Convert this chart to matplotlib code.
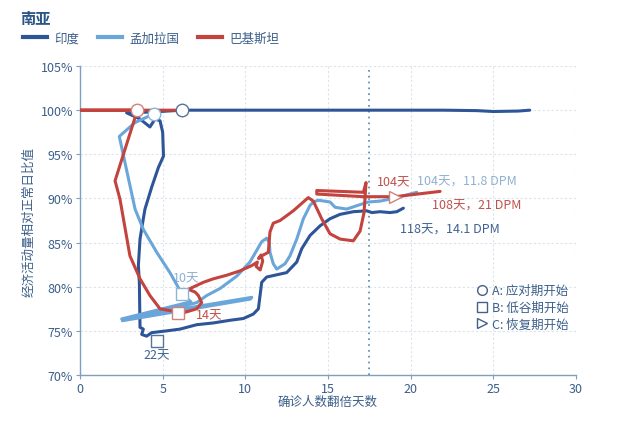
import matplotlib
matplotlib.use("Agg")
import matplotlib.pyplot as plt
from matplotlib.lines import Line2D

plt.rcParams['font.family'] = ['Noto Sans CJK SC', 'DejaVu Sans']

# ---------------- data ----------------
series_names = ["印度", "孟加拉国", "巴基斯坦"]
colors = ["#2d5597", "#6aa6da", "#c3433f"]

india_x = [27.2, 26.5, 25.0, 24.0, 22.0, 6.15, 4.44, 2.82, 3.63, 4.23, 4.54, 4.84, 5.0, 5.05,
           4.74, 4.34, 3.93, 3.83, 3.63, 3.53, 3.59, 3.63, 3.83, 3.73, 4.03, 4.34, 5.24, 6.05,
           7.06, 8.07, 9.07, 9.88, 10.48, 10.79, 10.89, 10.99, 11.29, 12.5, 13.11, 13.41, 13.91,
           14.52, 15.12, 15.73, 16.53, 17.34, 17.65, 18.15, 18.75, 19.16, 19.56]
india_y = [100.0, 99.9, 99.85, 99.95, 100.0, 100.0, 99.8, 99.7, 99.0, 98.1, 99.0, 98.8, 97.5, 94.8,
           93.5, 91.3, 88.8, 87.7, 85.4, 82.4, 80.5, 75.4, 75.2, 74.6, 74.4, 74.8, 75.0, 75.2,
           75.7, 75.9, 76.2, 76.4, 76.9, 77.5, 79.0, 80.5, 81.1, 81.6, 82.8, 84.3, 85.8,
           86.9, 87.7, 88.2, 88.5, 88.6, 88.4, 88.5, 88.4, 88.5, 88.9]

bangla_x = [4.48, 3.33, 2.42, 2.38, 3.33, 3.83, 4.64, 5.44, 6.01, 6.15, 6.7, 2.52, 10.39, 10.3,
            2.56, 7.06, 7.66, 8.47, 9.48, 10.28, 10.99, 11.29, 11.45, 11.49, 11.69, 11.9, 12.4,
            12.7, 13.11, 13.51, 13.91, 14.11, 14.42, 15.12, 15.43, 16.13, 16.94, 17.44, 18.15,
            18.95, 20.37]
bangla_y = [99.6, 98.6, 97.1, 97.0, 88.8, 86.5, 83.9, 81.6, 79.7, 79.2, 78.3, 76.35, 78.8, 78.6,
            76.15, 78.2, 79.0, 79.8, 81.2, 82.8, 85.1, 85.5, 85.0, 83.9, 82.6, 82.0, 82.6,
            83.5, 85.4, 87.7, 89.2, 89.6, 89.8, 89.6, 89.0, 88.8, 89.3, 89.6, 89.7,
            90.0, 90.7]

pak_x = [6.0, 0.0, 3.47, 2.12, 2.42, 3.02, 3.63, 4.23, 4.84, 5.44, 5.93, 6.35, 7.06, 7.36, 7.16,
         6.96, 6.55, 7.46, 8.07, 8.87, 9.68, 10.39, 10.73, 10.65, 10.9, 11.05, 10.95, 10.8, 10.99,
         11.39, 11.49, 11.69, 12.1, 12.9, 13.81, 14.11, 14.62, 15.12, 15.73, 16.53, 16.94, 17.18,
         17.30, 17.14, 14.32, 14.32, 17.14, 19.06, 21.78]
pak_y = [100.0, 100.0, 100.0, 92.0, 89.9, 83.5, 80.9, 79.0, 77.5, 77.3, 77.1, 77.1, 77.5, 78.2, 79.0,
         79.4, 79.7, 80.5, 80.9, 81.3, 81.8, 82.4, 82.8, 82.3, 81.9, 82.9, 83.6, 83.2, 83.5,
         83.9, 86.2, 87.2, 87.5, 88.6, 90.1, 89.7, 87.7, 86.0, 85.4, 85.2, 86.3, 88.4,
         91.8, 90.7, 90.9, 90.5, 90.2, 90.2, 90.8]

# phase markers: A (circle), B (square), C (triangle)
a_x = [6.15, 4.48, 3.47]
a_y = [100.0, 99.6, 100.0]
b_x = [4.64, 6.15, 5.93]
b_y = [73.9, 79.2, 77.0]
c_x = [19.06]
c_y = [90.2]

b_labels = ["22天", "10天", "14天"]
end_labels = ["118天，14.1 DPM", "104天，11.8 DPM", "108天，21 DPM"]
c_label = "104天"
vline_x = 17.5

x_ticks = [0, 5, 10, 15, 20, 25, 30]
y_ticks = [70, 75, 80, 85, 90, 95, 100, 105]

# ---------------- figure ----------------
fig = plt.figure(figsize=(6.4, 4.27), dpi=100)
ax = fig.add_axes([0.125, 0.1194, 0.775, 0.7236])

axis_col = "#7f9fbf"
text_col = "#3b5f8a"

ax.set_xlim(0, 30)
ax.set_ylim(70, 105)
ax.set_xticks(x_ticks)
ax.set_yticks(y_ticks)
ax.set_yticklabels([f"{v}%" for v in y_ticks])
ax.grid(True, color="#dbe3ec", linestyle=(0, (2, 2)), linewidth=0.8)
ax.set_axisbelow(True)
for s in ["top", "right"]:
    ax.spines[s].set_visible(False)
for s in ["left", "bottom"]:
    ax.spines[s].set_color(axis_col)
    ax.spines[s].set_linewidth(1.0)
ax.tick_params(colors=text_col, labelsize=9, length=3, width=0.8, pad=2)
ax.tick_params(axis='both', color=axis_col)

ax.axvline(vline_x, color="#4f86b0", linestyle=(0, (1, 2.5)), linewidth=1.2, zorder=1)

xs = [india_x, bangla_x, pak_x]
ys = [india_y, bangla_y, pak_y]
order = [1, 2, 0]
for i in order:
    ax.plot(xs[i], ys[i], color=colors[i], linewidth=2.2, solid_joinstyle="round",
            solid_capstyle="round", zorder=3 + i * 0.1)

edge_cols = ["#55739c", "#8fb4d6", "#d0827d"]
for i in range(3):
    ax.plot(a_x[i], a_y[i], marker="o", markersize=9, markerfacecolor="white",
            markeredgecolor=edge_cols[i], markeredgewidth=1.0, zorder=6)
    ax.plot(b_x[i], b_y[i], marker="s", markersize=9, markerfacecolor="white",
            markeredgecolor=edge_cols[i], markeredgewidth=1.0, zorder=6)
ax.plot(c_x[0], c_y[0], marker=">", markersize=9, markerfacecolor="white",
        markeredgecolor=edge_cols[2], markeredgewidth=1.0, zorder=6)

lab_cols = ["#3f6390", "#8fb0d2", "#c0504d"]
fs = 9
ax.text(b_x[0], b_y[0] - 1.6, b_labels[0], color=lab_cols[0], fontsize=fs, ha="center", va="center")
ax.text(b_x[1] + 0.3, b_y[1] + 1.8, b_labels[1], color=lab_cols[1], fontsize=fs, ha="center", va="center")
ax.text(b_x[2] + 1.1, b_y[2] - 0.2, b_labels[2], color=lab_cols[2], fontsize=fs, ha="left", va="center")
ax.text(17.97, 91.94, c_label, color=lab_cols[2], fontsize=fs, ha="left", va="center")
ax.text(20.4, 91.94, end_labels[1], color=lab_cols[1], fontsize=fs, ha="left", va="center")
ax.text(21.3, 89.26, end_labels[2], color=lab_cols[2], fontsize=fs, ha="left", va="center")
ax.text(19.36, 86.54, end_labels[0], color=lab_cols[0], fontsize=fs, ha="left", va="center")

ax.set_xlabel("确诊人数翻倍天数", color=text_col, fontsize=9, labelpad=0)
ax.set_ylabel("经济活动量相对正常日比值", color=text_col, fontsize=9, labelpad=4)

# marker legend
mk_handles = [
    Line2D([], [], linestyle="none", marker="o", markersize=7, markerfacecolor="white",
           markeredgecolor="#44608a", markeredgewidth=1.0),
    Line2D([], [], linestyle="none", marker="s", markersize=7, markerfacecolor="white",
           markeredgecolor="#44608a", markeredgewidth=1.0),
    Line2D([], [], linestyle="none", marker=">", markersize=7, markerfacecolor="white",
           markeredgecolor="#44608a", markeredgewidth=1.0),
]
mk_labels = ["A: 应对期开始", "B: 低谷期开始", "C: 恢复期开始"]
leg2 = ax.legend(mk_handles, mk_labels, loc="lower right", bbox_to_anchor=(1.003, 0.115),
                 frameon=False, fontsize=9, handlelength=0.8, handletextpad=0.4,
                 labelspacing=0.3, borderpad=0.2, labelcolor=text_col)

# top legend
line_handles = [Line2D([], [], color=c, linewidth=3) for c in colors]
fig.legend(line_handles, series_names, loc="upper left", bbox_to_anchor=(0.018, 0.95),
           ncol=3, frameon=False, fontsize=9, handlelength=1.9, handletextpad=0.6,
           columnspacing=1.5, labelcolor="#3b5f8a")

fig.text(0.031, 0.955, "南亚", fontsize=11, fontweight="bold", color="#2b5788", va="center", ha="left")

fig.savefig("out.png", dpi=100)
